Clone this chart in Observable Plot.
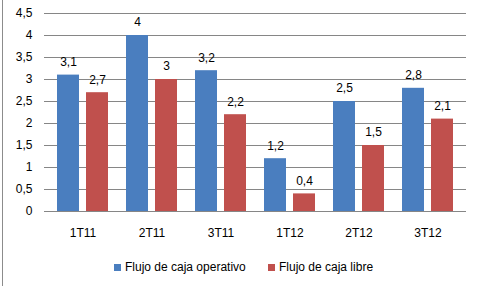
<!DOCTYPE html>
<html>
<head>
<meta charset="utf-8">
<script src="https://cdn.jsdelivr.net/npm/d3@7"></script>
<script src="https://cdn.jsdelivr.net/npm/@observablehq/plot@0.6"></script>
<style>
  html, body { margin: 0; padding: 0; background: #fff; }
  #wrap { position: relative; width: 480px; height: 286px; overflow: hidden; font-family: "Liberation Sans", Arial, sans-serif; }
  #border { position: absolute; left: 2px; top: 0; width: 0; height: 286px; border-left: 1px solid #8c8c8c; }
  #legend { position: absolute; top: 259px; left: 0; width: 480px; height: 16px; font-size: 12px; color: #000; }
  .item { position: absolute; top: 0; display: flex; align-items: center; height: 16px; white-space: nowrap; }
  .sw { width: 7px; height: 7px; margin-right: 4px; }
</style>
</head>
<body>
<div id="wrap">
  <div id="chart"></div>
  <div id="border"></div>
  <div id="legend"></div>
</div>
<script>
const categories = ["1T11", "2T11", "3T11", "1T12", "2T12", "3T12"];
const seriesNames = ["Flujo de caja operativo", "Flujo de caja libre"];
const operativo = [3.1, 4, 3.2, 1.2, 2.5, 2.8];
const libre = [2.7, 3, 2.2, 0.4, 1.5, 2.1];
const yTicks = [0, 0.5, 1, 1.5, 2, 2.5, 3, 3.5, 4, 4.5];
const colors = ["#4a7ebf", "#c0504d"];

const fmt = d => String(d).replace(".", ",");
const opData = categories.map((c, i) => ({cat: c, value: operativo[i]}));
const libData = categories.map((c, i) => ({cat: c, value: libre[i]}));

const chart = Plot.plot({
  width: 480,
  height: 245,
  marginLeft: 44,
  marginRight: 14,
  marginTop: 13,
  marginBottom: 34,
  style: {fontFamily: "'Liberation Sans', Arial, sans-serif", fontSize: "12px", color: "#000", background: "#fff"},
  x: {domain: categories, paddingInner: 0.257, paddingOuter: 0.143, label: null},
  y: {domain: [0, 4.5], label: null},
  marks: [
    Plot.ruleY(yTicks, {stroke: "#868686", strokeWidth: 1}),
    Plot.barY(opData, {x: "cat", y: "value", fill: colors[0], insetRight: 29}),
    Plot.barY(libData, {x: "cat", y: "value", fill: colors[1], insetLeft: 29}),
    Plot.text(opData, {x: "cat", y: "value", text: d => fmt(d.value), dx: -14.5, dy: -13, fill: "#000", fontSize: 12}),
    Plot.text(libData, {x: "cat", y: "value", text: d => fmt(d.value), dx: 14.5, dy: -13, fill: "#000", fontSize: 12}),
    Plot.axisY({ticks: yTicks, tickFormat: fmt, tickSize: 0, tickPadding: 12, fontSize: 12, label: null}),
    Plot.axisX({tickSize: 0, tickPadding: 17, fontSize: 12, label: null})
  ]
});
document.getElementById("chart").appendChild(chart);

const legend = document.getElementById("legend");
const lefts = [114, 268];
seriesNames.forEach((name, i) => {
  const item = document.createElement("div");
  item.className = "item";
  item.style.left = lefts[i] + "px";
  const sw = document.createElement("span");
  sw.className = "sw";
  sw.style.background = colors[i];
  const t = document.createElement("span");
  t.textContent = name;
  item.appendChild(sw);
  item.appendChild(t);
  legend.appendChild(item);
});
</script>
</body>
</html>
